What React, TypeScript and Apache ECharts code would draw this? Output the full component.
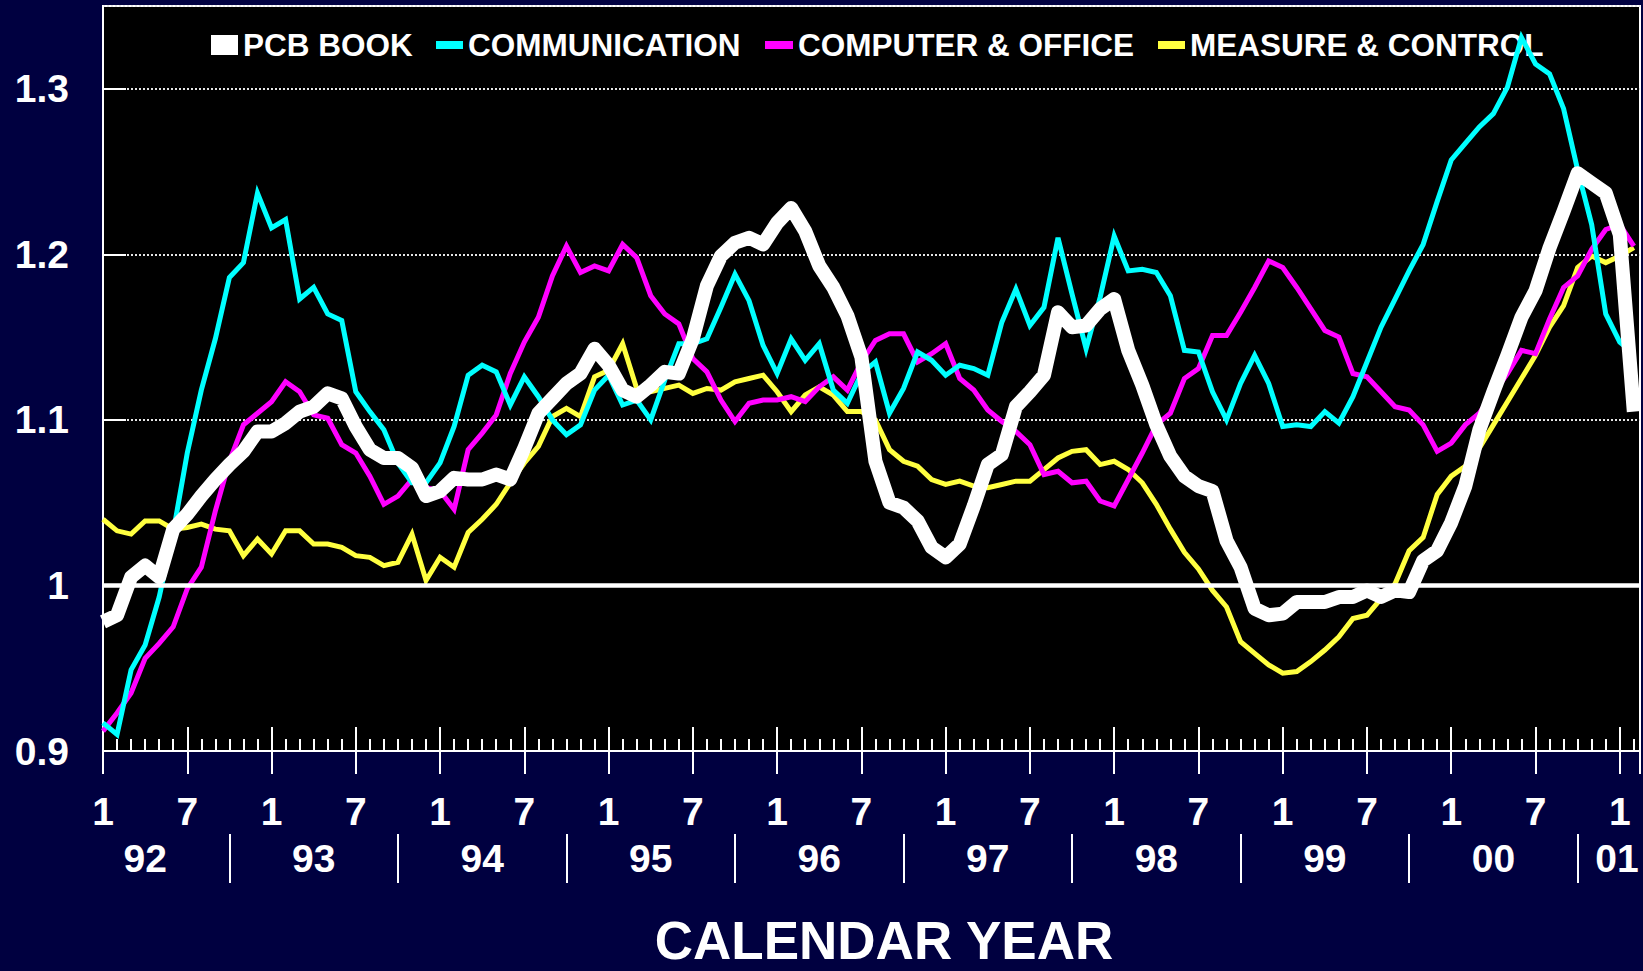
import React, { useEffect, useRef } from "react";
import * as echarts from "echarts";

// Monthly index 0 = Jan 1992 ... 109 = Feb 2001
const pcbBook = [
  0.978, 0.982, 1.005, 1.012, 1.005, 1.034, 1.043, 1.054, 1.064, 1.073, 1.081, 1.093,
  1.093, 1.098, 1.105, 1.108, 1.116, 1.113, 1.096, 1.082, 1.077, 1.077, 1.071, 1.054,
  1.057, 1.065, 1.064, 1.064, 1.067, 1.064, 1.083, 1.104, 1.113, 1.122, 1.128, 1.143,
  1.133, 1.118, 1.114, 1.121, 1.129, 1.128, 1.149, 1.181, 1.199, 1.207, 1.210, 1.206,
  1.219, 1.228, 1.214, 1.193, 1.180, 1.163, 1.138, 1.075, 1.050, 1.047, 1.039, 1.023,
  1.017, 1.025, 1.048, 1.073, 1.079, 1.108, 1.117, 1.127, 1.165, 1.156, 1.157, 1.167,
  1.173, 1.142, 1.121, 1.097, 1.078, 1.066, 1.060, 1.057, 1.027, 1.011, 0.986, 0.982,
  0.983, 0.990, 0.990, 0.990, 0.993, 0.993, 0.997, 0.993, 0.997, 0.996, 1.015, 1.021,
  1.038, 1.060, 1.094, 1.117, 1.139, 1.162, 1.178, 1.204, 1.226, 1.249, 1.243, 1.237,
  1.212, 1.105,
];

const communication = [
  0.917, 0.910, 0.949, 0.964, 0.993, 1.032, 1.080, 1.118, 1.149, 1.186, 1.195, 1.237,
  1.216, 1.221, 1.173, 1.180, 1.164, 1.160, 1.117, 1.105, 1.094, 1.074, 1.062, 1.062,
  1.074, 1.096, 1.127, 1.133, 1.129, 1.109, 1.126, 1.114, 1.100, 1.091, 1.097, 1.118,
  1.127, 1.109, 1.112, 1.100, 1.124, 1.146, 1.146, 1.149, 1.168, 1.188, 1.172, 1.145,
  1.128, 1.149, 1.136, 1.146, 1.118, 1.110, 1.128, 1.135, 1.104, 1.119, 1.141, 1.136,
  1.127, 1.133, 1.131, 1.127, 1.159, 1.179, 1.157, 1.168, 1.210, 1.176, 1.143, 1.174,
  1.211, 1.190, 1.191, 1.189, 1.175, 1.142, 1.141, 1.117, 1.100, 1.122, 1.139, 1.122,
  1.096, 1.097, 1.096, 1.105, 1.098, 1.114, 1.135, 1.156, 1.173, 1.190, 1.206, 1.232,
  1.257, 1.267, 1.277, 1.285, 1.301, 1.331, 1.315, 1.309, 1.288, 1.251, 1.218, 1.164,
  1.147, 1.140,
];

const computerOffice = [
  0.912, 0.923, 0.935, 0.956, 0.965, 0.975, 0.998, 1.011, 1.045, 1.075, 1.097, 1.104,
  1.111, 1.123, 1.117, 1.103, 1.101, 1.085, 1.080, 1.066, 1.049, 1.054, 1.064, 1.059,
  1.057, 1.046, 1.082, 1.092, 1.103, 1.128, 1.147, 1.162, 1.187, 1.205, 1.189, 1.193,
  1.190, 1.206, 1.198, 1.175, 1.164, 1.158, 1.137, 1.129, 1.112, 1.099, 1.110, 1.112,
  1.112, 1.114, 1.111, 1.120, 1.126, 1.118, 1.135, 1.148, 1.152, 1.152, 1.135, 1.140,
  1.146, 1.125, 1.118, 1.106, 1.099, 1.093, 1.085, 1.067, 1.069, 1.062, 1.063, 1.051,
  1.048, 1.064, 1.080, 1.097, 1.104, 1.125, 1.131, 1.151, 1.151, 1.165, 1.180, 1.196,
  1.192, 1.180, 1.167, 1.154, 1.150, 1.128, 1.126, 1.117, 1.108, 1.106, 1.097, 1.081,
  1.086, 1.097, 1.104, 1.116, 1.128, 1.142, 1.140, 1.161, 1.180, 1.187, 1.203, 1.215,
  1.218, 1.205,
];

const measureControl = [
  1.040, 1.033, 1.031, 1.039, 1.039, 1.034, 1.035, 1.037, 1.034, 1.033, 1.018, 1.028,
  1.019, 1.033, 1.033, 1.025, 1.025, 1.023, 1.018, 1.017, 1.012, 1.014, 1.031, 1.003,
  1.017, 1.011, 1.032, 1.040, 1.049, 1.062, 1.074, 1.084, 1.102, 1.107, 1.102, 1.126,
  1.130, 1.146, 1.119, 1.117, 1.119, 1.121, 1.116, 1.119, 1.118, 1.123, 1.125, 1.127,
  1.117, 1.105, 1.115, 1.120, 1.115, 1.105, 1.105, 1.100, 1.082, 1.075, 1.072, 1.064,
  1.061, 1.063, 1.060, 1.059, 1.061, 1.063, 1.063, 1.070, 1.077, 1.081, 1.082, 1.073,
  1.075, 1.070, 1.062, 1.049, 1.034, 1.020, 1.010, 0.997, 0.987, 0.966, 0.959, 0.952,
  0.947, 0.948, 0.954, 0.961, 0.969, 0.980, 0.982, 0.992, 1.001, 1.021, 1.029, 1.055,
  1.066, 1.072, 1.083, 1.097, 1.111, 1.125, 1.139, 1.156, 1.169, 1.192, 1.199, 1.195,
  1.199, 1.204,
];

const yearLabels = ["92", "93", "94", "95", "96", "97", "98", "99", "00", "01"];
const yearLabelPositions = [3, 15, 27, 39, 51, 63, 75, 87, 99, 107.8];
const yearSeparators = [9, 21, 33, 45, 57, 69, 81, 93, 105];
const seriesNames = ["PCB BOOK", "COMMUNICATION", "COMPUTER & OFFICE", "MEASURE & CONTROL"];

const FONT = "'Liberation Sans', Arial, Helvetica, sans-serif";
const X_MAX = 109.44;

const toPairs = (arr: number[]) => arr.map((v, i) => [i, v]);

export default function App() {
  const ref = useRef<HTMLDivElement>(null);

  useEffect(() => {
    if (!ref.current) return;
    const chart = echarts.init(ref.current, null, { renderer: "svg" });

    const baseX = {
      type: "value",
      gridIndex: 0,
      position: "bottom",
      min: 0,
      max: X_MAX,
      splitLine: { show: false },
    };

    const legendBase = {
      orient: "horizontal",
      top: 29,
      padding: 0,
      itemGap: 0,
      icon: "rect",
      selectedMode: false,
      itemStyle: { borderWidth: 0 },
      textStyle: { color: "#ffffff", fontSize: 31.5, fontWeight: "bold", fontFamily: FONT },
    };

    const option = {
      animation: false,
      backgroundColor: "#000040",
      grid: {
        left: 103,
        right: -2,
        top: 6,
        bottom: 220,
        show: true,
        backgroundColor: "#000000",
        borderColor: "#ffffff",
        borderWidth: 2,
        containLabel: false,
      },
      legend: [
        { ...legendBase, left: 211, itemWidth: 27, itemHeight: 20, data: [seriesNames[0]] },
        { ...legendBase, left: 436, itemWidth: 27, itemHeight: 8, data: [seriesNames[1]] },
        { ...legendBase, left: 765, itemWidth: 28, itemHeight: 8, data: [seriesNames[2]] },
        { ...legendBase, left: 1158, itemWidth: 27, itemHeight: 8, data: [seriesNames[3]] },
      ],
      xAxis: [
        {
          ...baseX,
          interval: 1,
          axisLine: { show: true, lineStyle: { color: "#ffffff", width: 2 } },
          axisTick: { show: true, inside: true, length: 12, lineStyle: { color: "#ffffff", width: 2 } },
          axisLabel: { show: false },
        },
        {
          ...baseX,
          interval: 6,
          axisLine: { show: false },
          axisTick: { show: true, inside: true, length: 24, lineStyle: { color: "#ffffff", width: 2 } },
          axisLabel: { show: false },
        },
        {
          ...baseX,
          interval: 6,
          axisLine: { show: false },
          axisTick: { show: true, inside: false, length: 23, lineStyle: { color: "#ffffff", width: 2 } },
          axisLabel: {
            show: true,
            margin: 60,
            verticalAlign: "middle",
            color: "#ffffff",
            fontSize: 39,
            fontWeight: "bold",
            fontFamily: FONT,
            showMinLabel: true,
            showMaxLabel: true,
            formatter: (v: number) => {
              const r = Math.round(v);
              if (Math.abs(r - v) > 1e-6) return "";
              if (r % 12 === 0) return "1";
              if (r % 12 === 6) return "7";
              return "";
            },
          },
        },
        {
          ...baseX,
          offset: 83,
          axisLine: { show: false },
          axisTick: {
            show: true,
            inside: false,
            length: 49,
            customValues: yearSeparators,
            lineStyle: { color: "#ffffff", width: 2 },
          },
          axisLabel: {
            show: true,
            customValues: yearLabelPositions,
            margin: 24,
            verticalAlign: "middle",
            color: "#ffffff",
            fontSize: 39,
            fontWeight: "bold",
            fontFamily: FONT,
            formatter: (v: number) => {
              const idx = yearLabelPositions.findIndex((p) => Math.abs(p - v) < 1e-6);
              return idx >= 0 ? yearLabels[idx] : "";
            },
          },
        },
      ],
      yAxis: {
        type: "value",
        min: 0.9,
        max: 1.35,
        interval: 0.1,
        axisLine: { show: true, lineStyle: { color: "#ffffff", width: 2 } },
        axisTick: { show: true, inside: true, length: 23, lineStyle: { color: "#ffffff", width: 2 } },
        axisLabel: {
          margin: 34,
          color: "#ffffff",
          fontSize: 39,
          fontWeight: "bold",
          fontFamily: FONT,
          showMaxLabel: false,
          formatter: (v: number) => {
            if (v > 1.31) return "";
            return String(Math.round(v * 10) / 10);
          },
        },
        splitLine: {
          show: true,
          lineStyle: { color: "#e6e6e6", width: 2, type: [2, 2] },
        },
      },
      graphic: [
        {
          type: "text",
          x: 884,
          y: 940,
          style: {
            text: "CALENDAR YEAR",
            fill: "#ffffff",
            font: `bold 53px ${FONT}`,
            lineHeight: 48,
            textAlign: "center",
            textVerticalAlign: "middle",
          },
        },
      ],
      series: [
        {
          name: seriesNames[3],
          type: "line",
          xAxisIndex: 0,
          data: toPairs(measureControl),
          showSymbol: false,
          color: "#ffff40",
          lineStyle: { color: "#ffff40", width: 5, join: "miter" },
          z: 2,
          markLine: {
            silent: true,
            symbol: ["none", "none"],
            label: { show: false },
            lineStyle: { color: "#ffffff", width: 4.5, type: "solid" },
            data: [{ yAxis: 1 }],
          },
        },
        {
          name: seriesNames[2],
          type: "line",
          xAxisIndex: 0,
          data: toPairs(computerOffice),
          showSymbol: false,
          color: "#ff00ff",
          lineStyle: { color: "#ff00ff", width: 5, join: "miter" },
          z: 3,
        },
        {
          name: seriesNames[1],
          type: "line",
          xAxisIndex: 0,
          data: toPairs(communication),
          showSymbol: false,
          color: "#00ffff",
          lineStyle: { color: "#00ffff", width: 5, join: "miter" },
          z: 4,
        },
        {
          name: seriesNames[0],
          type: "line",
          xAxisIndex: 0,
          data: toPairs(pcbBook),
          showSymbol: false,
          color: "#ffffff",
          lineStyle: { color: "#ffffff", width: 14, join: "round" },
          z: 5,
        },
      ],
    };

    chart.setOption(option as any);
    return () => chart.dispose();
  }, []);

  return (
    <div
      ref={ref}
      style={{
        position: "fixed",
        left: 0,
        top: 0,
        width: 1643,
        height: 971,
        background: "#000040",
      }}
    />
  );
}
